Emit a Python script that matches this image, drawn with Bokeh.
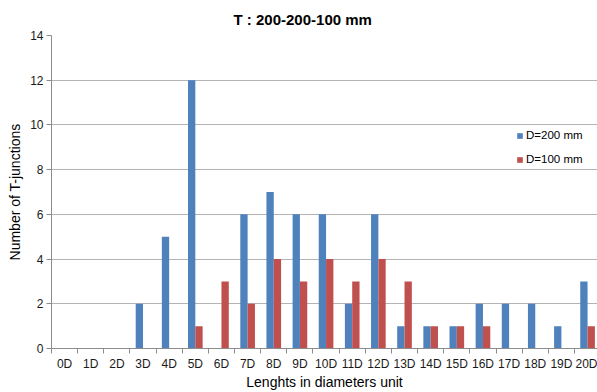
from bokeh.plotting import figure
from bokeh.models import FixedTicker, Legend, LegendItem, ColumnDataSource, Title
from bokeh.embed import file_html
from bokeh.resources import INLINE
from bokeh.transform import dodge

categories = ["0D", "1D", "2D", "3D", "4D", "5D", "6D", "7D", "8D", "9D", "10D",
              "11D", "12D", "13D", "14D", "15D", "16D", "17D", "18D", "19D", "20D"]
d200 = [0, 0, 0, 2, 5, 12, 0, 6, 7, 6, 6, 2, 6, 1, 1, 1, 2, 2, 2, 1, 3]
d100 = [0, 0, 0, 0, 0, 1, 3, 2, 4, 3, 4, 3, 4, 3, 1, 1, 1, 0, 0, 0, 1]
y_ticks = [0, 2, 4, 6, 8, 10, 12, 14]

xs = list(range(len(categories)))
src = ColumnDataSource(dict(x=xs, d200=d200, d100=d100))

FONT = "Liberation Sans"
p = figure(width=597, height=392, output_backend="svg", toolbar_location=None,
           x_range=(-0.5, 20.38), y_range=(0, 14),
           min_border_left=51, min_border_right=0, min_border_top=35, min_border_bottom=43)
p.title = Title(text="T : 200-200-100 mm", align="left", text_font=FONT,
                text_font_size="15px", text_font_style="bold", text_color="#000000",
                offset=182, standoff=15)

bw = 0.28
r1 = p.vbar(x=dodge("x", -bw / 2), top="d200", width=bw, source=src,
            fill_color="#4F81BD", line_color=None)
r2 = p.vbar(x=dodge("x", bw / 2), top="d100", width=bw, source=src,
            fill_color="#C0504D", line_color=None)

p.xaxis.ticker = FixedTicker(ticks=xs, minor_ticks=[i - 0.5 for i in range(len(categories) + 1)])
p.xaxis.major_label_overrides = {i: c for i, c in enumerate(categories)}
p.xaxis.major_tick_line_color = None
p.xaxis.major_tick_out = 5
p.xaxis.minor_tick_out = 5
p.xaxis.minor_tick_in = 0
p.xaxis.minor_tick_line_color = "#8c8c8c"
p.xaxis.major_label_standoff = 3
p.xaxis.axis_label = "Lenghts in diameters unit"
p.xaxis.axis_label_standoff = 0

p.yaxis.ticker = FixedTicker(ticks=y_ticks, minor_ticks=[])
p.yaxis.major_tick_out = 5
p.yaxis.major_tick_in = 0
p.yaxis.major_tick_line_color = "#8c8c8c"
p.yaxis.major_label_standoff = 3
p.yaxis.axis_label = "Number of T-junctions"
p.yaxis.axis_label_standoff = 4

for ax in (p.xaxis[0], p.yaxis[0]):
    ax.axis_line_color = "#8c8c8c"
    ax.major_label_text_font = FONT
    ax.major_label_text_font_size = "12px"
    ax.major_label_text_color = "#1a1a1a"
    ax.axis_label_text_font = FONT
    ax.axis_label_text_font_size = "14px"
    ax.axis_label_text_font_style = "normal"
    ax.axis_label_text_color = "#000000"

p.xgrid.grid_line_color = None
p.ygrid.ticker = FixedTicker(ticks=y_ticks)
p.ygrid.grid_line_color = "#b4b4b4"
p.outline_line_color = None
p.background_fill_color = "white"
p.border_fill_color = "white"

legend = Legend(items=[LegendItem(label="D=200 mm", renderers=[r1]),
                       LegendItem(label="D=100 mm", renderers=[r2])],
                location=(465, 180), padding=0, margin=0, spacing=6,
                glyph_width=7, glyph_height=7, label_standoff=3, label_height=18,
                label_text_font=FONT, label_text_font_size="11.5px",
                label_text_color="#000000",
                border_line_color=None, background_fill_alpha=0)
p.add_layout(legend)

open("out.html", "w").write(file_html(p, INLINE))
